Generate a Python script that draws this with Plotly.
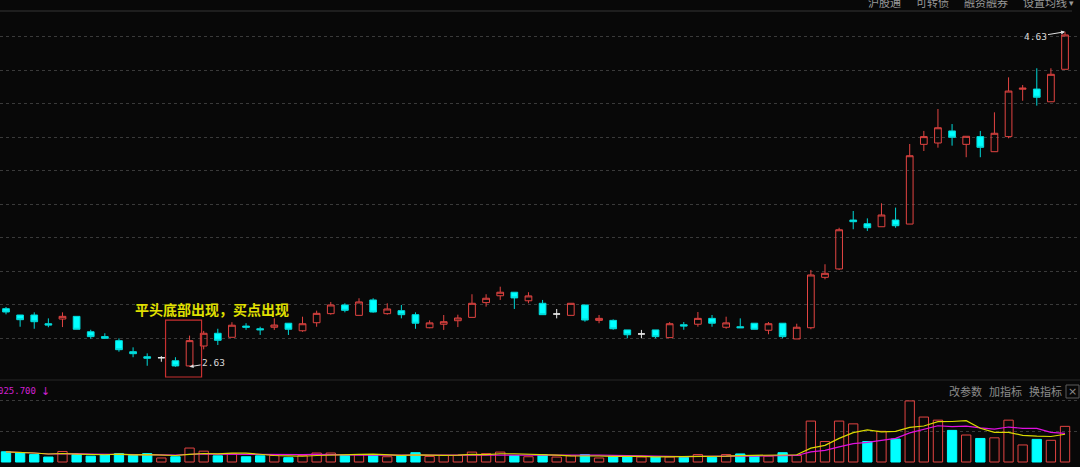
import plotly.graph_objects as go
import pandas as pd

# ---------------- data ----------------
opens = [2.977, 2.939, 2.939, 2.887, 2.915, 2.931, 2.839, 2.810, 2.786, 2.720,
         2.690, 2.684, 2.666, 2.635, 2.754, 2.830, 2.806, 2.873, 2.857, 2.866,
         2.890, 2.845, 2.893, 2.947, 2.999, 2.937, 3.029, 2.947, 2.965, 2.941,
         2.863, 2.884, 2.905, 2.925, 3.013, 3.054, 3.075, 3.024, 3.009, 2.945,
         2.937, 2.999, 2.907, 2.907, 2.850, 2.826, 2.850, 2.804, 2.881, 2.884,
         2.919, 2.866, 2.869, 2.890, 2.848, 2.890, 2.796, 2.863, 3.164, 3.214,
         3.506, 3.484, 3.466, 3.506, 3.482, 3.958, 3.966, 4.038, 3.958, 4.004,
         3.914, 4.004, 4.287, 4.288, 4.212, 4.406]
highs = [2.987, 2.939, 2.955, 2.919, 2.955, 2.931, 2.851, 2.830, 2.800, 2.746,
         2.710, 2.694, 2.687, 2.816, 2.844, 2.857, 2.896, 2.890, 2.869, 2.919,
         2.890, 2.929, 2.965, 3.017, 3.009, 3.039, 3.039, 3.009, 2.999, 2.955,
         2.907, 2.939, 2.941, 3.063, 3.063, 3.108, 3.075, 3.075, 3.029, 2.975,
         3.009, 2.999, 2.939, 2.913, 2.850, 2.850, 2.850, 2.897, 2.897, 2.957,
         2.939, 2.929, 2.919, 2.890, 2.897, 2.890, 2.887, 3.208, 3.242, 3.460,
         3.560, 3.516, 3.606, 3.580, 3.960, 4.038, 4.169, 4.079, 4.006, 4.038,
         4.149, 4.358, 4.312, 4.412, 4.412, 4.630]
lows = [2.943, 2.869, 2.857, 2.866, 2.867, 2.854, 2.798, 2.798, 2.720, 2.687,
        2.636, 2.660, 2.630, 2.630, 2.734, 2.760, 2.806, 2.851, 2.820, 2.850,
        2.820, 2.839, 2.869, 2.941, 2.955, 2.937, 2.953, 2.941, 2.919, 2.857,
        2.860, 2.850, 2.867, 2.925, 2.989, 3.029, 2.975, 3.009, 2.941, 2.919,
        2.937, 2.899, 2.890, 2.851, 2.800, 2.800, 2.800, 2.804, 2.851, 2.869,
        2.869, 2.857, 2.863, 2.854, 2.824, 2.800, 2.796, 2.854, 3.152, 3.208,
        3.451, 3.441, 3.466, 3.460, 3.482, 3.918, 3.938, 3.950, 3.881, 3.881,
        3.914, 3.994, 4.218, 4.189, 4.212, 4.406]
closes = [2.957, 2.911, 2.899, 2.879, 2.931, 2.854, 2.810, 2.800, 2.732, 2.708,
          2.681, 2.684, 2.635, 2.786, 2.830, 2.788, 2.878, 2.866, 2.851, 2.879,
          2.854, 2.887, 2.949, 2.999, 2.967, 3.017, 2.957, 2.975, 2.941, 2.890,
          2.892, 2.899, 2.921, 3.009, 3.039, 3.075, 3.041, 3.053, 2.941, 2.945,
          3.009, 2.909, 2.919, 2.857, 2.821, 2.826, 2.810, 2.887, 2.873, 2.919,
          2.890, 2.892, 2.863, 2.854, 2.887, 2.810, 2.866, 3.178, 3.188, 3.448,
          3.496, 3.460, 3.536, 3.472, 3.890, 4.004, 4.057, 4.000, 4.006, 3.940,
          4.024, 4.276, 4.293, 4.239, 4.376, 4.611]
volumes = [33, 30, 24, 16, 34, 24, 19, 24, 27, 21,
           27, 13, 17, 45, 35, 20, 27, 17, 20, 21,
           14, 21, 29, 29, 21, 24, 24, 17, 20, 30,
           18, 21, 21, 32, 27, 32, 21, 17, 24, 16,
           20, 24, 13, 19, 19, 16, 16, 16, 15, 24,
           15, 24, 26, 21, 19, 30, 21, 132, 66, 132,
           123, 66, 99, 74, 197, 145, 135, 102, 87, 76,
           78, 135, 55, 73, 70, 115]
price_grid = [2.8, 3.0, 3.2, 3.4, 3.6, 3.8, 4.0, 4.2, 4.4, 4.6]
vol_grid = [100, 200]
annotation_text = "平头底部出现，买点出现"
low_label = "2.63"
high_label = "4.63"
menu_top = ["沪股通", "可转债", "融资融券", "设置均线"]
menu_vol = ["改参数", "加指标", "换指标"]
vol_value_label = "025.700"

# ---------------- styling ----------------
W, H = 1080, 467
BG = "#080808"
RED = "#e24442"
CYAN = "#00ffff"
CYAN_LINE = "#00d8d8"
WHITE = "#e8e8e8"

def px_x(px):
    return px / W

def px_y(py):
    return 1 - py / H

idx = list(range(len(opens)))
up = [i for i in idx if closes[i] > opens[i]]
dn = [i for i in idx if closes[i] < opens[i]]
dj = [i for i in idx if closes[i] == opens[i]]

def sub(lst, ids):
    return [lst[i] for i in ids]

fig = go.Figure()

def add_candles(ids, line_color, fill):
    fig.add_trace(go.Candlestick(
        x=ids, open=sub(opens, ids), high=sub(highs, ids), low=sub(lows, ids), close=sub(closes, ids),
        increasing=dict(line=dict(color=line_color, width=1), fillcolor=fill),
        decreasing=dict(line=dict(color=line_color, width=1), fillcolor=fill),
        whiskerwidth=0, xaxis="x", yaxis="y", showlegend=False, hoverinfo="skip"))

add_candles(up, RED, "rgba(0,0,0,0)")
add_candles(dn, CYAN_LINE, CYAN)
add_candles(dj, WHITE, WHITE)

# volume colour: up vs previous close
vol_up = [(closes[0] >= opens[0]) if i == 0 else (closes[i] >= closes[i - 1]) for i in idx]
fig.add_trace(go.Bar(
    x=idx, y=volumes, width=0.66,
    marker=dict(color=["rgba(0,0,0,0)" if u else CYAN for u in vol_up],
                line=dict(color=[RED if u else CYAN for u in vol_up], width=1)),
    xaxis="x2", yaxis="y2", showlegend=False, hoverinfo="skip"))

vs = pd.Series(volumes)
ma5 = vs.rolling(5, min_periods=1).mean()
ma10 = vs.rolling(10, min_periods=1).mean()
fig.add_trace(go.Scatter(x=idx, y=ma10, mode="lines", line=dict(color="#e010e0", width=1.2),
                         xaxis="x2", yaxis="y2", showlegend=False, hoverinfo="skip"))
fig.add_trace(go.Scatter(x=idx, y=ma5, mode="lines", line=dict(color="#d8d800", width=1.2),
                         xaxis="x2", yaxis="y2", showlegend=False, hoverinfo="skip"))

xr = [-0.425, 76.06]
fig.update_layout(
    width=W, height=H, margin=dict(l=0, r=0, t=0, b=0),
    paper_bgcolor=BG, plot_bgcolor=BG, showlegend=False, boxgap=0.32,
    xaxis=dict(domain=[0, 1], range=xr, visible=False, rangeslider=dict(visible=False), anchor="y"),
    yaxis=dict(domain=[px_y(380), px_y(11)], range=[2.551, 4.754], tickvals=price_grid,
               showticklabels=False, showgrid=True, gridcolor="#3a3a3a", griddash="dot", gridwidth=1,
               zeroline=False, showline=False, ticks=""),
    xaxis2=dict(domain=[0, 1], range=xr, visible=False, anchor="y2"),
    yaxis2=dict(domain=[0, px_y(380)], range=[-16.1, 264.5], tickvals=vol_grid,
                showticklabels=False, showgrid=True, gridcolor="#3a3a3a", griddash="dot", gridwidth=1,
                zeroline=False, showline=False, ticks=""),
)

shapes = [
    dict(type="line", xref="paper", yref="paper", x0=0, x1=px_x(1072), y0=px_y(11), y1=px_y(11),
         line=dict(color="#1e1e1e", width=2)),
    dict(type="line", xref="paper", yref="paper", x0=0, x1=1, y0=px_y(380), y1=px_y(380),
         line=dict(color="#262626", width=1)),
    dict(type="rect", xref="x", yref="y", x0=11.3, x1=13.85, y0=2.569, y1=2.909,
         line=dict(color="#c83030", width=1.2)),
    dict(type="rect", xref="paper", yref="paper", x0=px_x(1066), x1=px_x(1079), y0=px_y(398), y1=px_y(385),
         line=dict(color="#5a5a5a", width=1)),
]
fig.update_layout(shapes=shapes)

ann = []
ann.append(dict(x=9.0, y=2.975, xref="x", yref="y", xanchor="left", yanchor="middle", showarrow=False,
                text="<b>" + annotation_text + "</b>",
                font=dict(family="Noto Sans CJK SC", size=14, color="#e0e000")))
ann.append(dict(x=13, y=lows[13], xref="x", yref="y", ax=24, ay=-4, text=low_label, showarrow=True,
                arrowhead=2, arrowsize=0.8, arrowwidth=1, arrowcolor="#e0e0e0",
                font=dict(family="DejaVu Sans Mono", size=9.5, color="#d8d8d8")))
ann.append(dict(x=75, y=highs[75], xref="x", yref="y", ax=-30, ay=5, text=high_label, showarrow=True,
                arrowhead=2, arrowsize=0.8, arrowwidth=1, arrowcolor="#e0e0e0",
                font=dict(family="DejaVu Sans Mono", size=9.5, color="#d8d8d8")))
menu_x = [866, 914, 962, 1021]
for t, mx in zip(menu_top, menu_x):
    ann.append(dict(x=px_x(mx), y=px_y(1.5), xref="paper", yref="paper", xanchor="left", yanchor="middle",
                    showarrow=False, text=t, font=dict(family="Noto Sans CJK SC", size=11, color="#9a9a9a")))
ann.append(dict(x=px_x(1067), y=px_y(3), xref="paper", yref="paper", xanchor="left", yanchor="middle",
                showarrow=False, text="▾", font=dict(family="DejaVu Sans", size=9, color="#9a9a9a")))
vol_menu_x = [947, 987, 1027]
for t, mx in zip(menu_vol, vol_menu_x):
    ann.append(dict(x=px_x(mx), y=px_y(391), xref="paper", yref="paper", xanchor="left", yanchor="middle",
                    showarrow=False, text=t, font=dict(family="Noto Sans CJK SC", size=11, color="#8c8c8c")))
ann.append(dict(x=px_x(1072.5), y=px_y(391.5), xref="paper", yref="paper", xanchor="center", yanchor="middle",
                showarrow=False, text="×", font=dict(family="DejaVu Sans", size=11, color="#8c8c8c")))
ann.append(dict(x=px_x(-4), y=px_y(391), xref="paper", yref="paper", xanchor="left", yanchor="middle",
                showarrow=False, text=vol_value_label,
                font=dict(family="DejaVu Sans Mono", size=9, color="#d020d0")))
ann.append(dict(x=px_x(39), y=px_y(391), xref="paper", yref="paper", xanchor="left", yanchor="middle",
                showarrow=False, text="↓", font=dict(family="DejaVu Sans", size=11, color="#d020d0")))
fig.update_layout(annotations=ann)

fig.write_html("out.html", config={"displayModeBar": False},
               post_script="document.body.style.margin='0px';document.body.style.overflow='hidden';")
